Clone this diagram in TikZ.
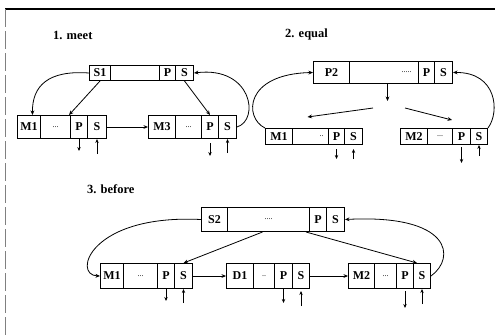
\documentclass[tikz,border=0pt]{standalone}
\usepackage{fontspec}
\setmainfont{Liberation Serif}
\usetikzlibrary{arrows.meta}
\tikzset{
  cell/.style={draw, line width=1pt, anchor=north west, inner sep=0pt,
    font=\fontsize{12}{13}\selectfont\bfseries},
  dots/.style={font=\fontsize{8}{9}\selectfont},
  link/.style={line width=0.8pt, -{Stealth[length=4.5pt,width=3.8pt]}},
  stub/.style={line width=0.7pt, -{Stealth[length=4pt,width=3.4pt]}},
  title/.style={anchor=base west, inner sep=0pt, font=\fontsize{12.5}{14}\selectfont\bfseries}
}
\begin{document}
\begin{tikzpicture}[x=1pt,y=-1pt]
\useasboundingbox (0,0) rectangle (495,335);
% frame
\draw[line width=1.1pt] (5,9) -- (495,9);
\draw[line width=0.6pt, gray, dash pattern=on 18pt off 4pt] (5,9) -- (5,335);

% ---------- 1. meet ----------
\node[title] (t1) at (53,39) {1. meet};
\node[cell,minimum width=21pt,minimum height=15pt] (s1n) at (89,65) {S1};
\node[cell,minimum width=49pt,minimum height=15pt] (s1d) at (110,65) {};
\node[cell,minimum width=16pt,minimum height=15pt] (s1p) at (159,65) {P};
\node[cell,minimum width=18pt,minimum height=15pt] (s1s) at (175,65) {S};

\node[cell,minimum width=23pt,minimum height=23pt] (am1n) at (17,115) {M1};
\node[cell,dots,minimum width=30pt,minimum height=23pt] (am1d) at (40,115) {...};
\node[cell,minimum width=17pt,minimum height=23pt] (am1p) at (70,115) {P};
\node[cell,minimum width=19pt,minimum height=23pt] (am1s) at (87,115) {S};

\node[cell,minimum width=27pt,minimum height=23pt] (am3n) at (148,115) {M3};
\node[cell,dots,minimum width=26pt,minimum height=23pt] (am3d) at (175,115) {...};
\node[cell,minimum width=17pt,minimum height=23pt] (am3p) at (201,115) {P};
\node[cell,minimum width=18pt,minimum height=23pt] (am3s) at (218,115) {S};

\draw[link] (s1n.west) .. controls (48,70) and (32,86) .. ([xshift=3.5pt]am1n.north);
\draw[link] (s1n.south) -- ([xshift=-2pt]am1d.north east);
\draw[link] (s1s.south) -- (am3p.north);
\draw[link] (am3s.east) .. controls (260,120) and (252,66) .. (s1s.east);
\draw[link] (am1s.east) -- (am3n.west);
\draw[stub] (am1p.south) -- ++(0,12);
\draw[stub] ([yshift=-15pt]am1s.south) -- (am1s.south);
\draw[stub] ([yshift=-4pt]am3p.south) -- ++(0,13);
\draw[stub] ([yshift=-14pt]am3s.south) -- (am3s.south);

% ---------- 2. equal ----------
\node[title] (t2) at (285,37) {2. equal};
\node[cell,minimum width=36pt,minimum height=22pt] (p2n) at (313,61) {P2};
\node[cell,dots,minimum width=69pt,minimum height=22pt,text width=55pt,align=right,inner xsep=7pt] (p2d) at (349,61) {.....};
\node[cell,minimum width=16pt,minimum height=22pt] (p2p) at (418,61) {P};
\node[cell,minimum width=18pt,minimum height=22pt] (p2s) at (434,61) {S};

\node[cell,minimum width=27pt,minimum height=16pt] (bm1n) at (265,128) {M1};
\node[cell,dots,minimum width=36pt,minimum height=16pt,text width=26pt,align=right,inner xsep=5pt] (bm1d) at (292,128) {..};
\node[cell,minimum width=16pt,minimum height=16pt] (bm1p) at (328,128) {P};
\node[cell,minimum width=18pt,minimum height=16pt] (bm1s) at (344,128) {S};

\node[cell,minimum width=27pt,minimum height=16pt] (bm2n) at (400,128) {M2};
\node[cell,dots,minimum width=25pt,minimum height=16pt] (bm2d) at (427,128) {...};
\node[cell,minimum width=18pt,minimum height=16pt] (bm2p) at (452,128) {P};
\node[cell,minimum width=17pt,minimum height=16pt] (bm2s) at (470,128) {S};

\coordinate (e1) at (373,108);
\coordinate (e2) at (405,108);
\draw[link] ([xshift=3.5pt]p2d.south) -- ++(0,17);
\draw[link] (e1) -- ([xshift=-3pt,yshift=11pt]bm1d.north);
\draw[link] (e2) -- ([yshift=8pt]bm2p.north west);
\draw[link] (bm1n.north west) .. controls (244,118) and (244,74) .. (p2n.west);
\draw[link] (bm2s.north east) .. controls (500,112) and (497,72) .. (p2s.east);
\draw[stub] ([yshift=-4pt]bm1p.south) -- ++(0,10);
\draw[stub] ([yshift=-14pt]bm1s.south) -- ([yshift=-4pt]bm1s.south);
\draw[stub] ([yshift=-2pt]bm2p.south) -- ++(0,16);
\draw[stub] ([yshift=-11pt]bm2s.south) -- (bm2s.south);

% ---------- 3. before ----------
\node[title] (t3) at (87,193) {3. before};
\node[cell,minimum width=26pt,minimum height=24pt] (s2n) at (201,207) {S2};
\node[cell,dots,minimum width=82pt,minimum height=24pt] (s2d) at (227,207) {....};
\node[cell,minimum width=17pt,minimum height=24pt] (s2p) at (309,207) {P};
\node[cell,minimum width=18pt,minimum height=24pt] (s2s) at (326,207) {S};

\node[cell,minimum width=23pt,minimum height=25pt] (cm1n) at (100,263) {M1};
\node[cell,dots,minimum width=34pt,minimum height=25pt] (cm1d) at (123,263) {...};
\node[cell,minimum width=17pt,minimum height=25pt] (cm1p) at (157,263) {P};
\node[cell,minimum width=18pt,minimum height=25pt] (cm1s) at (174,263) {S};

\node[cell,minimum width=27pt,minimum height=25pt] (d1n) at (226,263) {D1};
\node[cell,dots,minimum width=21pt,minimum height=25pt] (d1d) at (253,263) {..};
\node[cell,minimum width=18pt,minimum height=25pt] (d1p) at (274,263) {P};
\node[cell,minimum width=17pt,minimum height=25pt] (d1s) at (292,263) {S};

\node[cell,minimum width=26pt,minimum height=25pt] (cm2n) at (348,263) {M2};
\node[cell,dots,minimum width=22pt,minimum height=25pt] (cm2d) at (374,263) {...};
\node[cell,minimum width=17pt,minimum height=25pt] (cm2p) at (396,263) {P};
\node[cell,minimum width=17pt,minimum height=25pt] (cm2s) at (413,263) {S};

\draw[link] (s2n.west) .. controls (90,214) and (72,275) .. (cm1n.west);
\draw[link] ([xshift=-6pt]s2d.south) -- (cm1s.north);
\draw[link] ([xshift=-4pt]s2d.south east) -- ([xshift=-5pt]cm2s.north);
\draw[link] (cm1s.east) -- (d1n.west);
\draw[link] (d1s.east) -- (cm2n.west);
\draw[link] (cm2s.east) .. controls (456,258) and (452,214) .. (s2s.east);
\draw[stub] (cm1p.south) -- ++(0,12);
\draw[stub] ([yshift=-14pt]cm1s.south) -- (cm1s.south);
\draw[stub] (d1p.south) -- ++(0,14);
\draw[stub] ([yshift=-17pt]d1s.south) -- ([yshift=-2pt]d1s.south);
\draw[stub] ([yshift=-2pt]cm2p.south) -- ++(0,17);
\draw[stub] ([yshift=-15pt]cm2s.south) -- (cm2s.south);
\end{tikzpicture}
\end{document}
